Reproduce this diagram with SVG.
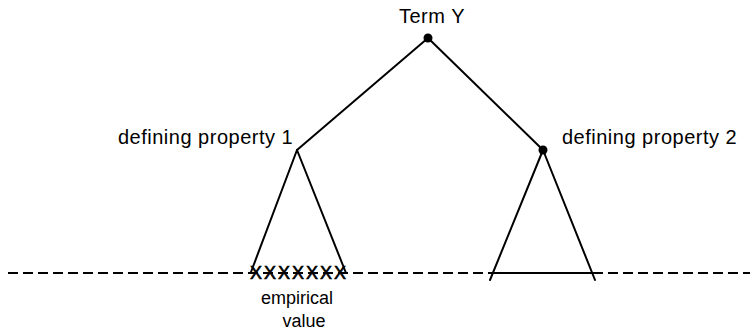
<svg xmlns="http://www.w3.org/2000/svg" width="752" height="333" viewBox="0 0 752 333">
<style>
text{font-family:"Liberation Sans",Arial,sans-serif;fill:#000}
.lbl{font-size:20px;letter-spacing:0.5px}
.sm{font-size:18px;text-anchor:middle}
.ln{stroke:#000;stroke-width:2;fill:none;stroke-linecap:round}
.dash{stroke:#000;stroke-width:2;stroke-dasharray:10 5;fill:none}
</style>
<rect width="752" height="333" fill="#fff"/>
<g id="baseline">
<line class="dash" x1="8" y1="273" x2="750" y2="273"/>
</g>
<g id="connectors">
<line class="ln" x1="428" y1="38" x2="297" y2="150"/>
<line class="ln" x1="428" y1="38" x2="543" y2="150"/>
<line class="ln" x1="297" y1="150" x2="251" y2="272"/>
<line class="ln" x1="297" y1="150" x2="346" y2="273"/>
<line class="ln" x1="543" y1="150" x2="490" y2="280"/>
<line class="ln" x1="543" y1="150" x2="595" y2="280"/>
<line class="ln" x1="490" y1="273" x2="595" y2="273"/>
</g>
<g id="termY">
<circle cx="428" cy="38" r="4.5" fill="#000"/>
<text class="lbl" x="432" y="23" text-anchor="middle">Term Y</text>
</g>
<g id="property1">
<text class="lbl" x="118" y="144">defining property 1</text>
</g>
<g id="property2">
<circle cx="543" cy="150" r="4.5" fill="#000"/>
<text class="lbl" x="562" y="144">defining property 2</text>
</g>
<g id="empirical">
<text x="250" y="279" style="font-size:18px;letter-spacing:2px;stroke:#000;stroke-width:0.6">XXXXXXX</text>
<text class="sm" x="297" y="304">empirical</text>
<text class="sm" x="304" y="327">value</text>
</g>
</svg>
